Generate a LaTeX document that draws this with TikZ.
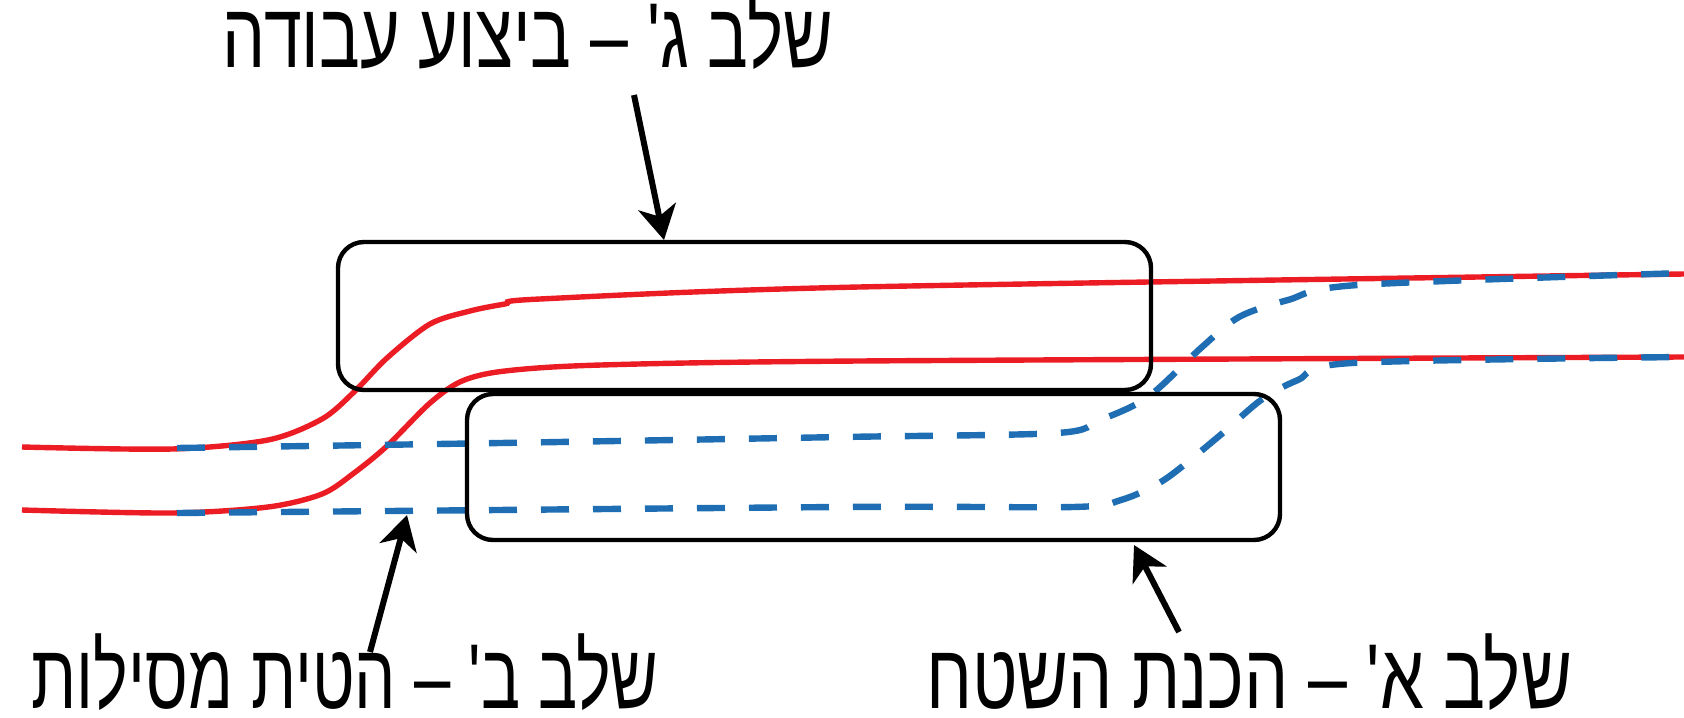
\documentclass[tikz,border=0pt]{standalone}
\usepackage{fontspec}
\usetikzlibrary{arrows.meta}
\TeXXeTstate=1
\newfontfamily\hebfont[Script=Hebrew, FakeStretch=0.74]{Liberation Sans}
\newfontfamily\hebfontB[Script=Hebrew, FakeStretch=0.71]{Liberation Sans}
\newfontfamily\hebfontA[Script=Hebrew, FakeStretch=0.76]{Liberation Sans}
\definecolor{rline}{RGB}{235,28,36}
\definecolor{bline}{RGB}{31,110,180}
\tikzset{
  stagebox/.style={draw=black, line width=2.2pt, rounded corners=13pt, inner sep=0pt},
  railred/.style={draw=rline, line width=2.7pt},
  railblue/.style={draw=bline, line width=3.2pt, dash pattern=on 14pt off 12pt},
  pointer/.style={-{Stealth[length=17pt,width=19pt,inset=5pt]}, line width=3pt},
  steplabel/.style={font=\fontsize{46}{52}\selectfont, inner sep=0pt, anchor=base, text depth=0pt}
}
\begin{document}
\begin{tikzpicture}[x=0.5pt,y=-0.5pt]
\useasboundingbox (0,0) rectangle (1684,717);
% rails
\draw[railred] plot[smooth, tension=0.5] coordinates {(22,447) (172,449) (268,440) (322,419) (354,392) (387,358) (430,324) (470,311) (505,304) (540,299) (859,287) (1684,274)};
\draw[railred] plot[smooth, tension=0.5] coordinates {(22,510) (172,513) (268,507) (322,494) (354,473) (387,446) (430,403) (462,381) (505,371) (601,365) (859,361) (1684,357)};
\draw[railblue] plot[smooth, tension=0.5] coordinates {(177,448) (500,443) (842,437) (1057,433) (1100,420) (1148,397) (1202,347) (1239,317) (1288,300) (1358,285) (1684,273)};
\draw[railblue] plot[smooth, tension=0.5] coordinates {(177,513) (842,507) (1073,507) (1121,500) (1164,480) (1218,437) (1261,400) (1298,380) (1352,363) (1684,357)};
% boxes
\node[stagebox, minimum width=406.5pt, minimum height=74pt] (stageC) at (744.5,316) {};
\node[stagebox, minimum width=406.5pt, minimum height=73pt] (stageA) at (873.5,467) {};
% labels
\node[steplabel, text height=27pt] (labC) at (528,68) {\hebfont\beginR שלב ג' – ביצוע עבודה\endR};
\node[steplabel] (labB) at (345,708) {\hebfontB\beginR שלב ב' – הטית מסילות\endR};
\node[steplabel] (labA) at (1249,708) {\hebfontA\beginR שלב א' – הכנת השטח\endR};
% arrows
\coordinate (tailC) at (634,95);
\coordinate (tipC) at (664,240);
\coordinate (tailB) at (370,652);
\coordinate (tipB) at (407,515);
\coordinate (tailA) at (1179,632);
\coordinate (tipA) at (1134,545);
\draw[pointer] (tailC) -- (tipC);
\draw[pointer] (tailB) -- (tipB);
\draw[pointer] (tailA) -- (tipA);
\end{tikzpicture}
\end{document}
